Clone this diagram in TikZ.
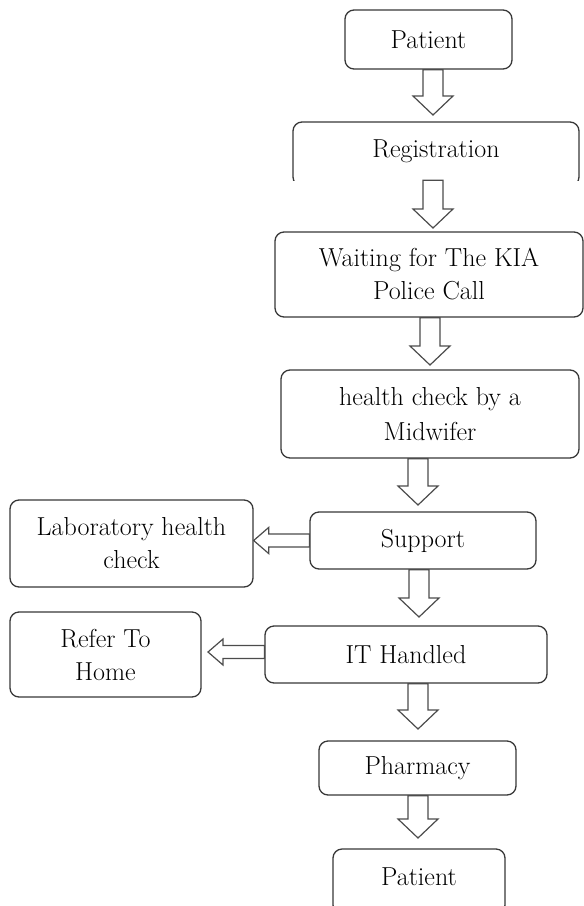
\documentclass[tikz,border=0pt]{standalone}
\usetikzlibrary{calc}
\begin{document}
\begin{tikzpicture}[x=1pt,y=-1pt,
  boxline/.style={draw=black!78, line width=1.3pt, rounded corners=9pt},
  box/.style={boxline, align=center, inner sep=0pt, font=\fontsize{26}{33}\selectfont},
  boxtext/.style={align=center, inner sep=0pt, font=\fontsize{26}{33}\selectfont},
  blk/.style={draw=black!70, line width=1.2pt, fill=white, line join=miter}]
\useasboundingbox (0,0) rectangle (584,906);
\clip (0,0) rectangle (584,906);
\newcommand\blkdown[2]{\draw[blk] let \p1=(#1), \p2=(#2) in
  (\x2-10pt,\y1) -- (\x2-10pt,\y2+19pt) -- (\x2-20pt,\y2+19pt) -- (\x2,\y2)
  -- (\x2+20pt,\y2+19pt) -- (\x2+10pt,\y2+19pt) -- (\x2+10pt,\y1) -- cycle;}
\newcommand\blkleft[2]{\draw[blk] let \p1=(#1), \p2=(#2) in
  (\x1,\y2+6.5pt) -- (\x2+15pt,\y2+6.5pt) -- (\x2+15pt,\y2+13pt) -- (\x2,\y2)
  -- (\x2+15pt,\y2-13pt) -- (\x2+15pt,\y2-6.5pt) -- (\x1,\y2-6.5pt) -- cycle;}

% boxes
\node[box, minimum width=167pt, minimum height=59pt] (p1) at (428.5,39.5) {Patient};
\node[boxtext, minimum width=286pt, minimum height=58pt] (reg) at (436,151) {Registration};
\begin{scope}
  \clip (280,110) rectangle (590,180);
  \draw[boxline] (293,122) rectangle (579,186);
\end{scope}
\node[box, minimum width=308pt, minimum height=85pt] (wait) at (429,274.5) {Waiting for The KIA\\Police Call};
\node[box, minimum width=298pt, minimum height=88pt, font=\fontsize{26}{35}\selectfont] (hc) at (430,414) {health check by a\\Midwifer};
\node[box, minimum width=226pt, minimum height=57pt] (sup) at (423,540.5) {Support};
\node[box, minimum width=243pt, minimum height=87pt] (lab) at (131.5,543.5) {Laboratory health\\check};
\node[box, minimum width=282pt, minimum height=57pt] (it) at (406,654.5) {IT Handled};
\node[box, minimum width=191pt, minimum height=85pt] (ref) at (105.5,654.5) {Refer To\\Home};
\node[box, minimum width=197pt, minimum height=54pt] (ph) at (417.5,768) {Pharmacy};
\node[boxtext, minimum width=172pt, minimum height=56pt] (p2) at (419,877) {Patient};
\draw[boxline] (333,849) rectangle (505,914);

% arrow tips
\coordinate (a1) at (433,115);
\coordinate (a2) at (433,228);
\coordinate (a3) at (430,365);
\coordinate (a4) at (418,505);
\coordinate (a5) at (419,617);
\coordinate (a6) at (418,729);
\coordinate (a7) at (418,838);
\coordinate (l1) at (lab.east |- sup.west);
\coordinate (l2) at (208,652);

% block arrows
\blkdown{p1.south}{a1}
\blkdown{reg.south}{a2}
\blkdown{wait.south}{a3}
\blkdown{hc.south}{a4}
\blkdown{sup.south}{a5}
\blkdown{it.south}{a6}
\blkdown{ph.south}{a7}
\blkleft{sup.west}{l1}
\blkleft{it.west}{l2}
\end{tikzpicture}
\end{document}
